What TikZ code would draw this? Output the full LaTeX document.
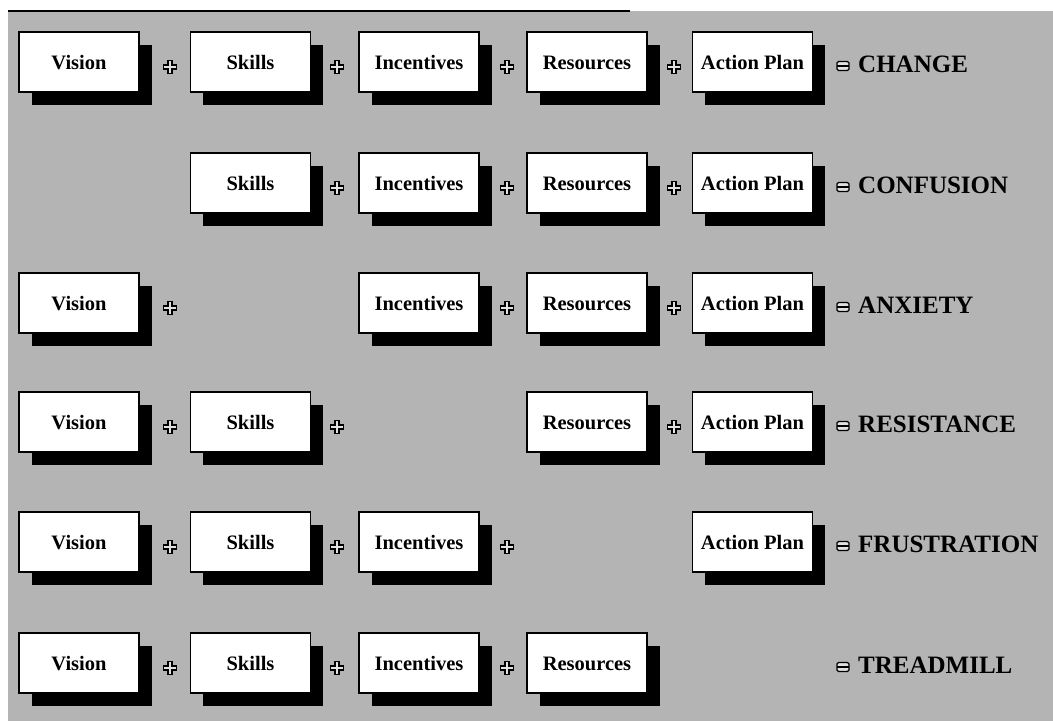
\documentclass[tikz,border=0pt]{standalone}
\usepackage{fontspec}
\setmainfont{Liberation Serif}
\usetikzlibrary{shadows}
\definecolor{bggray}{RGB}{180,180,180}
\definecolor{signfill}{RGB}{225,225,225}
\begin{document}
\begin{tikzpicture}[x=1pt,y=-1pt,
  box/.style={draw=black, line width=1.3pt, fill=white,
    minimum width=120pt, minimum height=60pt, inner sep=0pt,
    text height=15.5pt, text depth=0pt,
    font=\fontsize{20.5}{24}\selectfont\bfseries,
    drop shadow={shadow xshift=12.5pt, shadow yshift=-13pt, fill=black, opacity=1}},
  result/.style={anchor=base west, inner sep=0pt,
    font=\fontsize{25}{29}\selectfont\bfseries},
  plussign/.pic={\draw[line width=1.1pt, fill=signfill]
     (-2,-6.5)--(2,-6.5)--(2,-2)--(6.5,-2)--(6.5,2)--(2,2)--(2,6.5)
     --(-2,6.5)--(-2,2)--(-6.5,2)--(-6.5,-2)--(-2,-2)--cycle;},
  eqsign/.pic={\draw[line width=1.1pt, fill=signfill, rounded corners=1.5pt]
     (-6,-4.5) rectangle (6,4.5);
     \draw[line width=1.1pt] (-6,0)--(6,0);}
]
\useasboundingbox (0,0) rectangle (1053,721);
\fill[white] (0,0) rectangle (1053,721);
\fill[bggray] (8,11) rectangle (1053,721);
\draw[line width=1.5pt] (8,11) -- (630,11);

% Row 1 : CHANGE
\node[box] (r1v) at (79,62) {Vision};
\node[box] (r1s) at (250.5,62) {Skills};
\node[box] (r1i) at (419,62) {Incentives};
\node[box] (r1r) at (587,62) {Resources};
\node[box] (r1a) at (752.5,62) {Action Plan};
\pic at (170,67) {plussign};
\pic at (337,67) {plussign};
\pic at (507,67) {plussign};
\pic at (674,67) {plussign};
\pic at (843,66) {eqsign};
\node[result] (r1t) at (858,72.5) {CHANGE};

% Row 2 : CONFUSION
\node[box] (r2s) at (250.5,183) {Skills};
\node[box] (r2i) at (419,183) {Incentives};
\node[box] (r2r) at (587,183) {Resources};
\node[box] (r2a) at (752.5,183) {Action Plan};
\pic at (337,188) {plussign};
\pic at (507,188) {plussign};
\pic at (674,188) {plussign};
\pic at (843,187) {eqsign};
\node[result] (r2t) at (858,193.5) {CONFUSION};

% Row 3 : ANXIETY
\node[box] (r3v) at (79,303) {Vision};
\node[box] (r3i) at (419,303) {Incentives};
\node[box] (r3r) at (587,303) {Resources};
\node[box] (r3a) at (752.5,303) {Action Plan};
\pic at (170,308) {plussign};
\pic at (507,308) {plussign};
\pic at (674,308) {plussign};
\pic at (843,307) {eqsign};
\node[result] (r3t) at (858,313.5) {ANXIETY};

% Row 4 : RESISTANCE
\node[box] (r4v) at (79,422) {Vision};
\node[box] (r4s) at (250.5,422) {Skills};
\node[box] (r4r) at (587,422) {Resources};
\node[box] (r4a) at (752.5,422) {Action Plan};
\pic at (170,427) {plussign};
\pic at (337,427) {plussign};
\pic at (674,427) {plussign};
\pic at (843,426) {eqsign};
\node[result] (r4t) at (858,432.5) {RESISTANCE};

% Row 5 : FRUSTRATION
\node[box] (r5v) at (79,542) {Vision};
\node[box] (r5s) at (250.5,542) {Skills};
\node[box] (r5i) at (419,542) {Incentives};
\node[box] (r5a) at (752.5,542) {Action Plan};
\pic at (170,547) {plussign};
\pic at (337,547) {plussign};
\pic at (507,547) {plussign};
\pic at (843,546) {eqsign};
\node[result] (r5t) at (858,552.5) {FRUSTRATION};

% Row 6 : TREADMILL
\node[box] (r6v) at (79,663) {Vision};
\node[box] (r6s) at (250.5,663) {Skills};
\node[box] (r6i) at (419,663) {Incentives};
\node[box] (r6r) at (587,663) {Resources};
\pic at (170,668) {plussign};
\pic at (337,668) {plussign};
\pic at (507,668) {plussign};
\pic at (843,667) {eqsign};
\node[result] (r6t) at (858,673.5) {TREADMILL};
\end{tikzpicture}
\end{document}
